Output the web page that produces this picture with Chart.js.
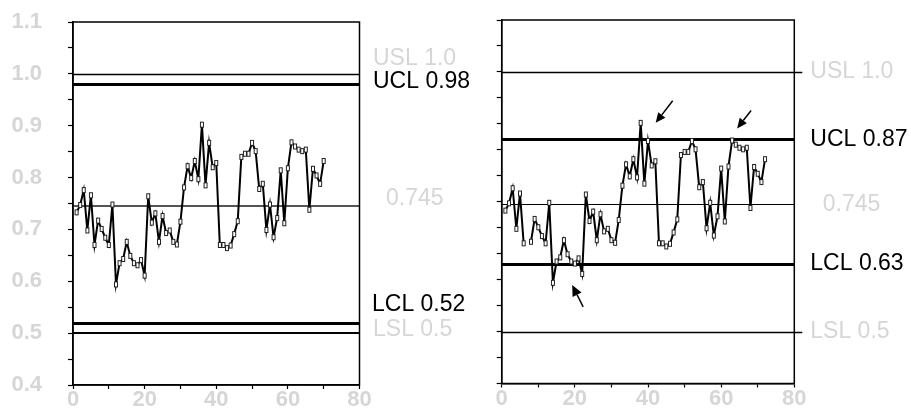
<!DOCTYPE html>
<html>
<head>
<meta charset="utf-8">
<script src="https://cdn.jsdelivr.net/npm/chart.js@4.4.1/dist/chart.umd.min.js"></script>
<style>
  html, body { margin: 0; padding: 0; background: #fff; width: 911px; height: 409px; overflow: hidden; }
  canvas { position: absolute; top: 0; }
  #leftChart { left: 0; }
  #rightChart { left: 470px; }
</style>
</head>
<body>
<canvas id="leftChart" width="470" height="409"></canvas>
<canvas id="rightChart" width="441" height="409"></canvas>
<script>
// Sample proportions, one per subgroup (subgroups 1..70)
const measurements = [
  0.733, 0.747, 0.776, 0.698, 0.766, 0.670, 0.717, 0.701, 0.684, 0.670,
  0.748, 0.594, 0.635, 0.643, 0.676, 0.649, 0.635, 0.631, 0.641, 0.611,
  0.764, 0.713, 0.731, 0.676, 0.726, 0.693, 0.698, 0.676, 0.671, 0.715,
  0.781, 0.822, 0.799, 0.832, 0.797, 0.902, 0.785, 0.867, 0.820, 0.828,
  0.670, 0.670, 0.664, 0.669, 0.691, 0.716, 0.840, 0.846, 0.846, 0.867,
  0.851, 0.778, 0.788, 0.699, 0.748, 0.685, 0.722, 0.814, 0.712, 0.818,
  0.868, 0.860, 0.854, 0.851, 0.854, 0.738, 0.817, 0.804, 0.788, 0.832
];

// Second chart: same run, with a break after subgroup 6 and a restart value
const breakAfter = 6;
const restartValue = 0.673;
const rightSeries = [
  ...measurements.slice(0, breakAfter), null, restartValue, ...measurements.slice(breakAfter)
];

// Limit lines: names and values for each chart
const limitNames = ['USL 1.0', 'UCL 0.98', '0.745', 'LCL 0.52', 'LSL 0.5'];
const leftLimitValues = [1.0, 0.98, 0.745, 0.52, 0.5];
const rightLimitNames = ['USL 1.0', 'UCL 0.87', '0.745', 'LCL 0.63', 'LSL 0.5'];
const rightLimitValues = [1.0, 0.87, 0.745, 0.63, 0.5];

// Axis ranges and tick labels
const xRange = [0, 80];
const xLabelTicks = [0, 20, 40, 60, 80];
const yRange = [0.4, 1.1];
const yLabelTicks = ['0.4', '0.5', '0.6', '0.7', '0.8', '0.9', '1.0', '1.1'];

// Flagged points on the second chart (x position, value)
const flaggedX = [38, 63, 22];
const flaggedY = [0.902, 0.868, 0.611];

const FONT = "'Liberation Sans', Arial, Helvetica, sans-serif";
const LIGHT = '#d6d6d6';

// Small upright box used as the point marker
function makeMarker() {
  const c = document.createElement('canvas');
  c.width = 6; c.height = 8;
  const g = c.getContext('2d');
  g.fillStyle = '#fff';
  g.fillRect(1, 1, 4, 6);
  g.strokeStyle = '#222';
  g.lineWidth = 1;
  g.strokeRect(1.5, 1.5, 3, 5);
  return c;
}
const marker = makeMarker();

function toPoints(values) {
  return values.map((v, i) => ({ x: i + 1, y: v }));
}

function axes(yWidth, xHeight, showYLabels) {
  return {
    x: {
      type: 'linear',
      min: xRange[0], max: xRange[1],
      afterFit(s) {
        s.height = xHeight;
        s.paddingLeft = 0; s.paddingRight = 0; s.paddingTop = 0; s.paddingBottom = 0;
      },
      ticks: {
        stepSize: 10,
        autoSkip: false,
        maxRotation: 0,
        padding: -2,
        callback: v => xLabelTicks.includes(v) ? String(v) : '',
        font: { family: FONT, size: 22, weight: 'bold' },
        color: LIGHT
      },
      grid: { drawOnChartArea: false, tickLength: 4, color: '#000', tickWidth: 1.2 },
      border: { color: '#000', width: 1.5 }
    },
    y: {
      min: yRange[0], max: yRange[1],
      afterFit(s) {
        s.width = yWidth;
        s.paddingLeft = 0; s.paddingRight = 0; s.paddingTop = 0; s.paddingBottom = 0;
      },
      ticks: {
        stepSize: 0.05,
        autoSkip: false,
        padding: 26,
        callback: v => {
          if (!showYLabels) return '';
          const t = v.toFixed(1);
          return Math.abs(v - parseFloat(t)) < 1e-6 && yLabelTicks.includes(t) ? t : '';
        },
        font: { family: FONT, size: 22, weight: 'bold' },
        color: LIGHT
      },
      grid: { drawOnChartArea: false, tickLength: 5, color: '#000', tickWidth: 1.2 },
      border: { color: '#000', width: 1.5 }
    }
  };
}

// Draws the limit lines under the data and their captions, frame and arrows on top
function limitsPlugin(cfg) {
  return {
    id: 'limits_' + cfg.id,
    beforeDatasetsDraw(chart) {
      const { ctx, chartArea: a, scales: { y } } = chart;
      ctx.save();
      cfg.values.forEach((v, i) => {
        const st = cfg.styles[i];
        const py = Math.round(y.getPixelForValue(v)) + (st.width % 2 ? 0.5 : 0);
        ctx.strokeStyle = st.color;
        ctx.lineWidth = st.width;
        ctx.beginPath();
        ctx.moveTo(a.left, py);
        ctx.lineTo(a.right + (st.extend || 0), py);
        ctx.stroke();
      });
      ctx.restore();
    },
    afterDraw(chart) {
      const { ctx, chartArea: a, scales: { x, y } } = chart;
      ctx.save();
      // frame
      ctx.strokeStyle = '#000';
      ctx.lineWidth = 1.5;
      ctx.strokeRect(a.left, a.top, a.right - a.left, a.bottom - a.top);
      // captions
      ctx.font = '23px ' + FONT;
      ctx.textBaseline = 'middle';
      ctx.textAlign = 'left';
      cfg.names.forEach((n, i) => {
        const st = cfg.styles[i];
        ctx.fillStyle = st.textColor;
        ctx.fillText(n, a.right + st.dx, y.getPixelForValue(cfg.values[i]) + st.dy);
      });
      // arrows
      (cfg.arrows || []).forEach(ar => {
        const hx = x.getPixelForValue(ar.x) + ar.hx;
        const hy = y.getPixelForValue(ar.y) + ar.hy;
        const tx = hx + ar.tx, ty = hy + ar.ty;
        const ang = Math.atan2(hy - ty, hx - tx);
        const L = ar.len, W = ar.wid;
        const bx = hx - L * Math.cos(ang), by = hy - L * Math.sin(ang);
        ctx.strokeStyle = '#000';
        ctx.fillStyle = '#000';
        ctx.lineWidth = 1.5;
        ctx.beginPath();
        ctx.moveTo(tx, ty);
        ctx.lineTo(bx, by);
        ctx.stroke();
        ctx.beginPath();
        ctx.moveTo(hx, hy);
        ctx.lineTo(bx + W * Math.sin(ang), by - W * Math.cos(ang));
        ctx.lineTo(bx - W * Math.sin(ang), by + W * Math.cos(ang));
        ctx.closePath();
        ctx.fill();
      });
      ctx.restore();
    }
  };
}

function dataset(points) {
  return {
    data: points,
    borderColor: '#000',
    borderWidth: 2,
    tension: 0,
    spanGaps: false,
    pointStyle: marker,
    pointRadius: 3,
    pointHoverRadius: 3
  };
}

const baseOptions = {
  responsive: false,
  animation: false,
  events: [],
  plugins: { legend: { display: false }, tooltip: { enabled: false } }
};

new Chart(document.getElementById('leftChart'), {
  type: 'line',
  data: { datasets: [dataset(toPoints(measurements))] },
  options: {
    ...baseOptions,
    layout: { padding: { left: 0, top: 22, right: 110.5, bottom: 0 } },
    scales: axes(73, 24, true)
  },
  plugins: [limitsPlugin({
    id: 'left',
    names: limitNames,
    values: leftLimitValues,
    styles: [
      { color: '#000', width: 1.5, textColor: LIGHT, dx: 13.5, dy: -15.5 },
      { color: '#000', width: 3, textColor: '#000', dx: 13.5, dy: -2.5 },
      { color: '#555', width: 2, textColor: LIGHT, dx: 26.5, dy: -7 },
      { color: '#000', width: 3, textColor: '#000', dx: 12.5, dy: -18 },
      { color: '#000', width: 2, textColor: LIGHT, dx: 13.5, dy: -3.5 }
    ]
  })]
});

new Chart(document.getElementById('rightChart'), {
  type: 'line',
  data: { datasets: [dataset(toPoints(rightSeries))] },
  options: {
    ...baseOptions,
    layout: { padding: { left: 0, top: 20, right: 116.7, bottom: 0 } },
    scales: axes(31.7, 25.5, false)
  },
  plugins: [limitsPlugin({
    id: 'right',
    names: rightLimitNames,
    values: rightLimitValues,
    styles: [
      { color: '#000', width: 1.5, textColor: LIGHT, dx: 16, dy: 0, extend: 8 },
      { color: '#000', width: 3, textColor: '#000', dx: 16, dy: 0 },
      { color: '#000', width: 1.2, textColor: LIGHT, dx: 28.5, dy: 0 },
      { color: '#000', width: 3, textColor: '#000', dx: 16, dy: 0 },
      { color: '#000', width: 1.5, textColor: LIGHT, dx: 16, dy: 0, extend: 8 }
    ],
    arrows: [
      { x: flaggedX[0], y: flaggedY[0], hx: 15, hy: 0, tx: 17, ty: -22, len: 10, wid: 4.5 },
      { x: flaggedX[1], y: flaggedY[1], hx: 5, hy: -12, tx: 14, ty: -18, len: 10, wid: 4.5 },
      { x: flaggedX[2], y: flaggedY[2], hx: -10, hy: 11, tx: 11, ty: 22, len: 11, wid: 5 }
    ]
  })]
});
</script>
</body>
</html>
